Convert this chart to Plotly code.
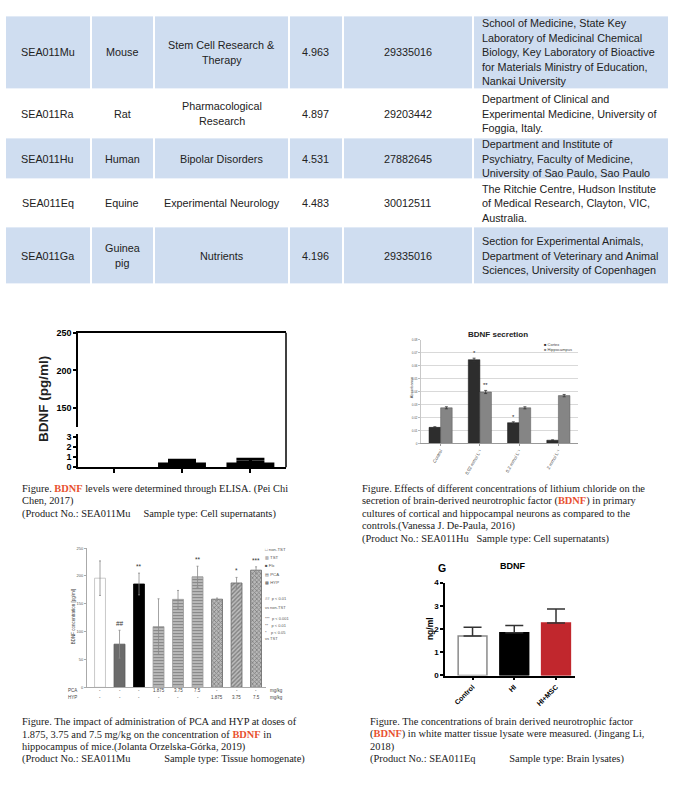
import plotly.graph_objects as go

W, H = 674, 799
SANS = "Liberation Sans, Arial, sans-serif"
SERIF = "Liberation Serif, Times New Roman, serif"
RED = "#E8502F"
TXT = "#222222"

# ---------------- Table data ----------------
codes = ["SEA011Mu", "SEA011Ra", "SEA011Hu", "SEA011Eq", "SEA011Ga"]
species = ["Mouse", "Rat", "Human", "Equine", "Guinea\npig"]
journals = ["Stem Cell Research &\nTherapy", "Pharmacological\nResearch", "Bipolar Disorders",
            "Experimental Neurology", "Nutrients"]
impact = ["4.963", "4.897", "4.531", "4.483", "4.196"]
pmids = ["29335016", "29203442", "27882645", "30012511", "29335016"]
affils = [
    "School of Medicine, State Key\nLaboratory of Medicinal Chemical\nBiology, Key Laboratory of Bioactive\nfor Materials Ministry of Education,\nNankai University",
    "Department of Clinical and\nExperimental Medicine, University of\nFoggia, Italy.",
    "Department and Institute of\nPsychiatry, Faculty of Medicine,\nUniversity of Sao Paulo, Sao Paulo",
    "The Ritchie Centre, Hudson Institute\nof Medical Research, Clayton, VIC,\nAustralia.",
    "Section for Experimental Animals,\nDepartment of Veterinary and Animal\nSciences, University of Copenhagen",
]
row_shaded = [1, 0, 1, 0, 1]

# ---------------- Chart 1 (broken axis) ----------------
c1_x = [0, 1, 2]
c1_vals = [None, 0.45, 0.45]
c1_err = [0.0, 0.22, 0.32]
c1_upper_ticks = [150, 200, 250]
c1_lower_ticks = [0, 1, 2, 3]

# ---------------- Chart 2 (BDNF secretion) ----------------
c2_cats = ["Control", "0.02 mmol L⁻¹", "0.2 mmol L⁻¹", "2 mmol L⁻¹"]
c2_cortex = [0.0124, 0.0646, 0.0160, 0.0025]
c2_cortex_err = [0.0005, 0.0012, 0.0007, 0.0003]
c2_hippo = [0.0275, 0.0397, 0.0275, 0.0369]
c2_hippo_err = [0.0008, 0.0012, 0.0008, 0.0009]
c2_cortex_sig = ["", "*", "*", ""]
c2_hippo_sig = ["", "**", "", ""]

# ---------------- Chart 3 (PCA / HYP) ----------------
c3_pca = ["-", "-", "-", "1.875", "3.75", "7.5", "-", "-", "-"]
c3_hyp = ["-", "-", "-", "-", "-", "-", "1.875", "3.75", "7.5"]
c3_vals = [196, 77.5, 185.6, 109, 158, 198.5, 158.3, 187.4, 210.4]
c3_err = [31, 25, 19.5, 50, 16, 19, 2, 10, 6]
c3_sig = ["", "##", "**", "", "", "**", "", "*", "***"]
c3_legend = ["□ non-TST", "▥ TST", "■ Flx", "▤ PCA", "▩ HYP"]
c3_notes = ["##  p &lt; 0.01", "vs non-TST", "***  p &lt; 0.001", "**   p &lt; 0.01",
            "*    p &lt; 0.05", "vs TST"]

# ---------------- Chart 4 (G BDNF) ----------------
c4_cats = ["Control", "HI", "HI+MSC"]
c4_vals = [1.70, 1.84, 2.26]
c4_err = [0.38, 0.32, 0.61]

# ---------------- Captions ----------------
B = "<span style='color:%s'><b>BDNF</b></span>" % RED
NB = "\u00a0"
cap1 = ["Figure. " + B + " levels were determined through ELISA. (Pei Chi",
        "Chen, 2017)",
        "(Product No.: SEA011Mu" + NB * 5 + "Sample type: Cell supernatants)"]
cap2 = ["Figure. Effects of different concentrations of lithium chloride on the",
        "secretion of brain-derived neurotrophic factor (" + B + ") in primary",
        "cultures of cortical and hippocampal neurons as compared to the",
        "controls.(Vanessa J. De-Paula, 2016)",
        "(Product No.: SEA011Hu" + NB * 3 + "Sample type: Cell supernatants)"]
cap3 = ["Figure. The impact of administration of PCA and HYP at doses of",
        "1.875, 3.75 and 7.5 mg/kg on the concentration of " + B + " in",
        "hippocampus of mice.(Jolanta Orzelska-Górka, 2019)",
        "(Product No.: SEA011Mu" + NB * 13 + "Sample type: Tissue homogenate)"]
cap4 = ["Figure. The concentrations of brain derived neurotrophic factor",
        "(" + B + ") in white matter tissue lysate were measured. (Jingang Li,",
        "2018)",
        "(Product No.: SEA011Eq" + NB * 13 + "Sample type: Brain lysates)"]

# ---------------- layout geometry (pixels) ----------------
col_edges = [5, 90.5, 154, 289, 342.5, 473, 669]
row_edges = [10.5, 85.5, 134.5, 176.8, 224.5, 283.2]
affil_left = 480.5
table_line = 14.7
table_font = 10.8


def dx(a, b):
    return [a / W, b / W]


def dy(top, bottom):
    return [1 - bottom / H, 1 - top / H]


def px(x):
    return x / W


def py(y):
    return 1 - y / H


anns = []


def ann(text, x, y, xref="paper", yref="paper", size=10, family=SANS, color=TXT,
        xanchor="center", yanchor="middle", angle=0, weight="normal", yshift=0):
    anns.append(dict(text=text, x=x, y=y, xref=xref, yref=yref, showarrow=False,
                     font=dict(size=size, family=family, color=color, weight=weight),
                     xanchor=xanchor, yanchor=yanchor, textangle=angle, yshift=yshift,
                     borderpad=0))


fig = go.Figure()

# ---------------- Table ----------------
fig.add_trace(go.Heatmap(
    x=col_edges, y=row_edges, z=[[f] * 6 for f in row_shaded],
    colorscale=[[0, "white"], [1, "#CFDDF0"]], zmin=0, zmax=1, showscale=False,
    xgap=2, ygap=2, hoverinfo="skip", xaxis="x6", yaxis="y6"))

table_cols = [codes, species, journals, impact, pmids, affils]
for r in range(len(codes)):
    cy = (row_edges[r] + row_edges[r + 1]) / 2
    for c, col in enumerate(table_cols):
        lines = col[r].split("\n")
        n = len(lines)
        for k, line in enumerate(lines):
            yy = cy + (k - (n - 1) / 2) * table_line
            if c == 5:
                ann(line, affil_left, yy, "x6", "y6", size=table_font, xanchor="left")
            else:
                ann(line, (col_edges[c] + col_edges[c + 1]) / 2, yy, "x6", "y6", size=table_font)

# ---------------- Chart 1 ----------------
fig.add_trace(go.Bar(
    x=c1_x, y=c1_vals, width=0.70, marker=dict(color="black", line=dict(width=0)),
    error_y=dict(type="data", symmetric=False, array=c1_err, arrayminus=[0] * 3,
                 color="black", thickness=3, width=14),
    xaxis="x", yaxis="y", hoverinfo="skip"))
fig.add_trace(go.Scatter(x=[None], y=[None], xaxis="x2", yaxis="y2", hoverinfo="skip"))
ann("<b>BDNF (pg/ml)</b>", px(43), py(399), size=13.5, angle=-90)

# ---------------- Chart 2 ----------------
c2_x = list(range(len(c2_cats)))
bw = 0.295
fig.add_trace(go.Bar(
    x=c2_x, y=c2_cortex, width=bw, offset=-bw,
    marker=dict(color="#2d2d2d", line=dict(color="#111", width=0.5)),
    error_y=dict(type="data", array=c2_cortex_err, color="#333", thickness=0.8, width=1.5),
    xaxis="x3", yaxis="y3", hoverinfo="skip"))
fig.add_trace(go.Bar(
    x=c2_x, y=c2_hippo, width=bw, offset=0,
    marker=dict(color="#858585", line=dict(color="#555", width=0.5)),
    error_y=dict(type="data", array=c2_hippo_err, color="#333", thickness=0.8, width=1.5),
    xaxis="x3", yaxis="y3", hoverinfo="skip"))
for i in c2_x:
    if c2_cortex_sig[i]:
        ann(c2_cortex_sig[i], i - bw / 2, c2_cortex[i] + c2_cortex_err[i], "x3", "y3",
            size=6, yanchor="bottom", yshift=1)
    if c2_hippo_sig[i]:
        ann(c2_hippo_sig[i], i + bw / 2, c2_hippo[i] + c2_hippo_err[i], "x3", "y3",
            size=6, yanchor="bottom", yshift=1)
ann("<b>BDNF secretion</b>", px(498), py(334), size=8)
ann("Absorbance", px(411), py(387), size=4, angle=-90, color="#444")
ann("<span style='color:#2d2d2d'>■</span> Cortex", px(543), py(344), size=4,
    xanchor="left", color="#444")
ann("<span style='color:#858585'>■</span> Hippocampus", px(543), py(349), size=4,
    xanchor="left", color="#444")

# ---------------- Chart 3 ----------------
c3_x = list(range(len(c3_vals)))
fig.add_trace(go.Bar(
    x=c3_x, y=c3_vals, width=0.56,
    marker=dict(
        color=["white", "#6b6b6b", "black", "#c4c4c4", "#c4c4c4", "#c4c4c4",
               "#b8b8b8", "#bcbcbc", "#b8b8b8"],
        line=dict(color=["#bdbdbd", "#555", "black", "#999", "#999", "#999",
                         "#666", "#666", "#666"], width=0.8),
        pattern=dict(shape=["", "", "", "-", "-", "-", "x", "/", "x"],
                     fgcolor=["#fff", "#6b6b6b", "#000", "#8a8a8a", "#8a8a8a", "#8a8a8a",
                              "#4a4a4a", "#555", "#4a4a4a"],
                     bgcolor=["white", "#6b6b6b", "black", "#cacaca", "#cacaca", "#cacaca",
                              "#c8c8c8", "#c4c4c4", "#c8c8c8"],
                     size=3, solidity=0.45)),
    error_y=dict(type="data", array=c3_err, color="#8a8a8a", thickness=0.8, width=1),
    xaxis="x4", yaxis="y4", hoverinfo="skip"))
for i in c3_x:
    if c3_sig[i]:
        ann(c3_sig[i], i, c3_vals[i] + c3_err[i], "x4", "y4", size=6.5,
            yanchor="bottom", yshift=2, color="#333")
    ann(c3_pca[i], i, py(694.5), "x4", "paper", size=4.5, color="#444")
    ann(c3_hyp[i], i, py(701.5), "x4", "paper", size=4.5, color="#444")
ann("PCA", px(67), py(694.5), size=4.5, xanchor="left", color="#444")
ann("HYP", px(67), py(701.5), size=4.5, xanchor="left", color="#444")
ann("mg/kg", px(269), py(694.5), size=4.5, xanchor="left", color="#444")
ann("mg/kg", px(269), py(701.5), size=4.5, xanchor="left", color="#444")
ann("BDNF concentration [pg/ml]", px(73), py(620), size=4.5, angle=-90, color="#444")
leg_y = [551, 559.5, 568, 576.5, 585]
for t, yy in zip(c3_legend, leg_y):
    ann(t, px(264), py(yy), size=4.3, xanchor="left", color="#555")
note_y = [601, 610, 621, 628, 635, 642]
for t, yy in zip(c3_notes, note_y):
    ann(t, px(264), py(yy), size=4, xanchor="left", color="#555")

# ---------------- Chart 4 ----------------
c4_x = list(range(len(c4_cats)))
fig.add_trace(go.Bar(
    x=c4_x, y=c4_vals, width=0.69,
    marker=dict(color=["white", "black", "#C1272D"],
                line=dict(color=["#8a8a8a", "black", "#C1272D"], width=1.5)),
    error_y=dict(type="data", symmetric=False, array=c4_err, arrayminus=[0] * 3,
                 color="#333", thickness=1.5, width=9),
    xaxis="x5", yaxis="y5", hoverinfo="skip"))
ann("<b>G</b>", px(442), py(570), size=10.5, color="black")
ann("<b>BDNF</b>", px(512), py(568), size=9, color="black")
ann("<b>ng/ml</b>", px(430), py(632), size=8.5, angle=-90, color="black")

# ---------------- Captions ----------------
CAP_LINE = 12.6


def caption(lines, x0, y0):
    for k, t in enumerate(lines):
        ann(t, px(x0), py(y0 + k * CAP_LINE), size=10.4, family=SERIF, xanchor="left",
            color="#1a1a1a")


caption(cap1, 21, 490)
caption(cap2, 361, 490)
caption(cap3, 21, 726)
caption(cap4, 369, 726)

# ---------------- axes ----------------
base = dict(showgrid=False, zeroline=False, fixedrange=True)
blk = dict(showline=True, linecolor="black", linewidth=1.5, ticks="outside",
           tickcolor="black", tickwidth=1.5)

layout_axes = dict(
    # chart 1 lower
    xaxis=dict(**base, **blk, domain=dx(78, 286), anchor="y", range=[-0.52, 2.52],
               tickvals=c1_x, ticktext=["", "", ""], ticklen=4),
    yaxis=dict(**base, **blk, domain=dy(434, 468), anchor="x", range=[0, 3.29],
               tickvals=c1_lower_ticks, ticklen=3,
               tickfont=dict(size=9, family=SANS, color="black", weight="bold")),
    # chart 1 upper
    xaxis2=dict(**base, domain=dx(78, 286), anchor="y2", range=[-0.52, 2.52], side="top",
                showline=True, linecolor="black", linewidth=1.5, showticklabels=False,
                ticks=""),
    yaxis2=dict(**base, **blk, domain=dy(332, 427), anchor="x2", range=[125, 250],
                tickvals=c1_upper_ticks, ticklen=3,
                tickfont=dict(size=9, family=SANS, color="black", weight="bold")),
    # chart 2
    xaxis3=dict(**base, domain=dx(421, 578), anchor="y3", range=[-0.5, 3.5],
                tickvals=c2_x, ticktext=c2_cats, tickangle=-60,
                tickfont=dict(size=4.5, family=SANS, color="#444"),
                showline=True, linecolor="#999", linewidth=0.8, ticks="outside",
                ticklen=2, tickcolor="#999"),
    yaxis3=dict(zeroline=False, fixedrange=True, domain=dy(339, 444), anchor="x3",
                range=[0, 0.08], dtick=0.01, showgrid=True, gridcolor="#d9d9d9",
                gridwidth=0.8, tickfont=dict(size=3, family=SANS, color="#555"),
                showline=True, linecolor="#c8c8c8", linewidth=0.8, ticks="outside",
                ticklen=2, tickcolor="#bbb"),
    # chart 3
    xaxis4=dict(**base, domain=dx(87, 266), anchor="y4", range=[-0.667, 8.51],
                showticklabels=False, showline=True, linecolor="#aaa", linewidth=0.8),
    yaxis4=dict(**base, domain=dy(550, 691), anchor="x4", range=[0, 250],
                tickvals=[0, 50, 100, 150, 200, 250],
                tickfont=dict(size=4, family=SANS, color="#555"),
                showline=True, linecolor="#aaa", linewidth=0.8, ticks="outside",
                ticklen=2, tickcolor="#aaa"),
    # chart 4
    xaxis5=dict(**base, **blk, domain=dx(445, 575), anchor="y5", range=[-0.66, 2.455],
                tickvals=c4_x, ticktext=c4_cats, tickangle=-45, ticklen=3,
                tickfont=dict(size=7, family=SANS, color="black", weight="bold")),
    yaxis5=dict(**base, **blk, domain=dy(585, 679), anchor="x5", range=[0, 4],
                tickvals=[0, 1, 2, 3, 4], ticklen=3,
                tickfont=dict(size=8, family=SANS, color="black", weight="bold")),
    # table
    xaxis6=dict(**base, domain=dx(5, 669), anchor="y6", range=[5, 669], visible=False),
    yaxis6=dict(**base, domain=dy(10.5, 283.2), anchor="x6", range=[283.2, 10.5],
                visible=False),
)

fig.update_layout(
    width=W, height=H, autosize=False, margin=dict(l=0, r=0, t=0, b=0, pad=0),
    paper_bgcolor="white", plot_bgcolor="white", showlegend=False,
    barmode="overlay", hovermode=False, annotations=anns,
    font=dict(family=SANS, color=TXT),
    shapes=[dict(type="line", xref="paper", yref="paper", x0=px(286), x1=px(286),
                 y0=py(332), y1=py(468), line=dict(color="black", width=1.5))],
    **layout_axes)

fig.write_html("out.html",
               config={"displayModeBar": False, "staticPlot": False},
               post_script="document.body.style.margin='0px';"
                           "document.body.style.overflow='hidden';")
